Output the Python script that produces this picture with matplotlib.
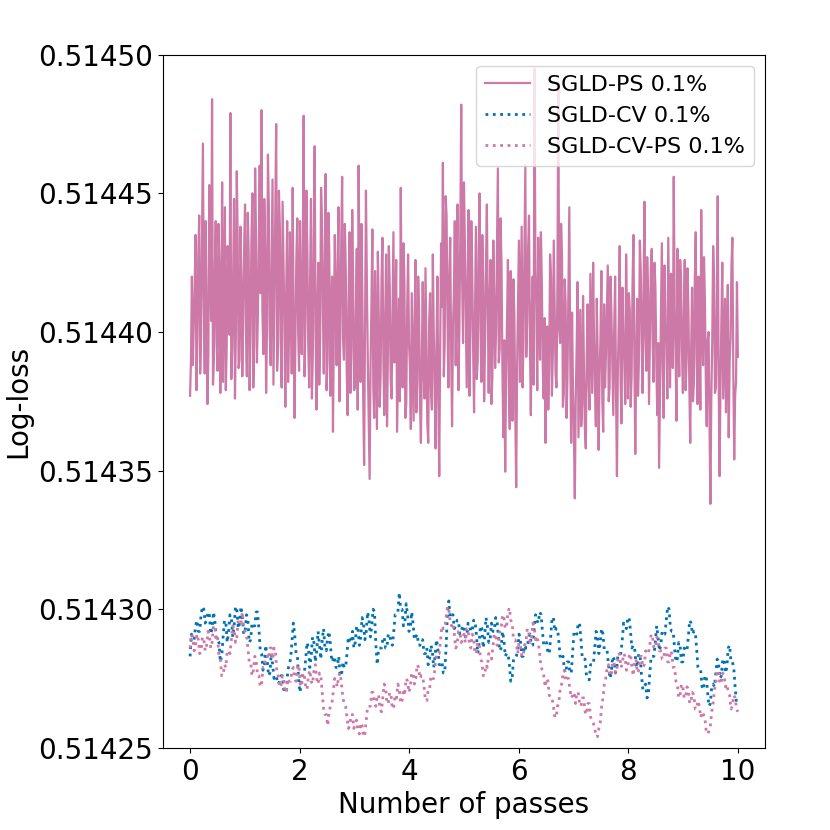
import numpy as np
import matplotlib
matplotlib.use('Agg')
import matplotlib.pyplot as plt
from matplotlib.ticker import FormatStrFormatter

# log-loss values, stored as offset above 0.51425 in units of 1e-5
base = 0.51425
unit = 1e-5

sgld_ps = [
    12.7, 14.0, 17.0, 13.8, 15.2, 16.6, 18.5, 12.9, 15.0, 17.8, 19.2, 13.5, 14.8, 18.3, 21.8, 16.2, 13.5, 19.0, 16.0, 12.4,
    14.2, 20.3, 18.0, 15.4, 23.4, 13.1, 14.0, 17.2, 19.0, 14.6, 13.6, 18.9, 17.5, 12.8, 15.0, 20.4, 13.2, 16.3, 19.5, 12.9,
    14.5, 18.1, 17.0, 14.9, 22.9, 13.3, 14.4, 16.9, 19.8, 12.6, 15.0, 20.8, 18.2, 13.7, 14.0, 18.8, 17.0, 13.4, 15.5, 18.0,
    19.6, 15.1, 13.4, 19.3, 17.8, 12.9, 15.0, 18.4, 20.0, 13.0, 14.6, 20.9, 18.5, 13.9, 15.6, 17.9, 21.0, 16.4, 23.0, 15.8,
    14.2, 19.8, 18.0, 12.8, 15.2, 21.4, 19.5, 14.9, 13.8, 17.3, 20.5, 13.1, 16.0, 19.2, 22.5, 13.6, 14.5, 20.1, 18.8, 14.7,
    13.0, 19.7, 17.5, 15.3, 12.3, 16.6, 19.0, 13.2, 14.8, 18.6, 16.5, 13.5, 20.2, 15.6, 11.9, 14.6, 17.6, 19.1, 15.0, 13.6,
    19.0, 16.2, 14.2, 17.6, 22.8, 13.4, 15.5, 20.1, 18.0, 14.6, 13.0, 16.8, 19.8, 12.6, 14.2, 18.3, 21.7, 15.1, 12.2, 16.0,
    17.5, 13.1, 14.8, 20.2, 19.0, 15.7, 13.5, 17.4, 20.7, 12.9, 14.0, 19.3, 17.8, 12.7, 15.6, 17.0, 11.4, 15.2, 18.5, 16.1,
    13.8, 17.1, 19.5, 12.5, 15.0, 18.2, 20.6, 14.8, 14.0, 18.9, 17.2, 13.6, 12.0, 15.9, 18.6, 12.8, 14.4, 19.4, 16.8, 12.9,
    13.0, 15.8, 18.0, 12.2, 21.0, 16.3, 13.2, 18.9, 16.5, 12.6, 10.2, 14.9, 20.1, 16.8, 14.0, 11.8, 9.7, 13.8, 16.0, 18.7,
    13.0, 11.9, 17.2, 14.4, 11.5, 17.9, 15.6, 12.3, 13.4, 16.9, 18.4, 14.1, 12.0, 15.3, 17.8, 11.6, 14.2, 18.1, 16.6, 13.3,
    12.6, 15.7, 18.6, 13.9, 15.0, 17.6, 11.4, 13.7, 16.2, 12.5, 20.2, 15.5, 13.0, 18.2, 16.8, 11.9, 12.4, 15.8, 17.8, 14.6,
    13.8, 11.5, 16.4, 14.2, 11.8, 15.1, 17.6, 12.1, 13.2, 17.0, 15.8, 12.4, 11.0, 14.0, 16.8, 13.5, 12.6, 17.3, 14.6, 11.7,
    11.0, 15.4, 16.4, 12.9, 12.2, 17.8, 15.0, 13.1, 10.8, 14.5, 17.0, 12.6, 9.8, 14.3, 18.2, 15.9, 21.1, 13.4, 14.6, 19.9,
    19.2, 15.6, 13.0, 17.0, 18.4, 14.3, 11.6, 15.2, 16.4, 19.0, 13.8, 17.7, 19.6, 12.9, 15.2, 18.5, 23.2, 16.9, 14.6, 20.4,
    18.2, 15.6, 13.0, 16.8, 19.4, 12.7, 15.0, 19.0, 17.2, 14.4, 12.1, 15.5, 18.8, 13.3, 14.0, 17.9, 20.0, 15.3, 13.2, 18.5,
    16.8, 12.5, 14.6, 17.4, 19.6, 15.8, 12.8, 16.1, 17.6, 12.4, 13.4, 18.3, 16.2, 13.7, 15.0, 18.1, 20.9, 13.9, 14.4, 19.1,
    17.4, 13.6, 11.2, 14.7, 9.96, 13.5, 15.4, 17.6, 13.0, 11.5, 17.2, 14.3, 11.8, 16.9, 15.6, 12.2, 9.4, 13.8, 16.0, 18.3,
    13.2, 16.1, 18.8, 13.0, 14.8, 17.9, 21.0, 14.1, 15.4, 18.0, 19.2, 14.6, 12.0, 15.8, 17.0, 13.1, 24.5, 17.3, 15.8, 12.9,
    18.4, 15.9, 14.0, 18.6, 16.8, 13.8, 12.6, 15.5, 11.0, 14.0, 15.2, 12.2, 13.6, 17.8, 17.0, 12.7, 14.2, 18.3, 16.0, 13.5,
    13.0, 16.6, 24.0, 15.1, 14.6, 18.9, 17.8, 12.3, 12.8, 16.9, 16.0, 11.9, 13.4, 16.4, 19.5, 14.2, 11.0, 15.7, 13.0, 11.3,
    9.0, 12.6, 14.4, 16.8, 11.2, 13.5, 15.8, 11.6, 12.4, 16.3, 13.6, 11.5, 10.8, 14.1, 16.0, 13.4, 12.2, 17.1, 15.0, 12.8,
    17.5, 14.7, 13.0, 11.6, 16.2, 14.0, 10.75, 13.3, 14.8, 17.2, 12.6, 11.4, 16.0, 13.0, 14.2, 15.9, 17.4, 12.5, 13.0, 17.0,
    15.6, 13.8, 12.0, 15.1, 17.0, 12.8, 9.8, 13.6, 15.4, 18.1, 13.2, 11.7, 16.6, 14.9, 14.0, 12.4, 17.8, 15.4, 12.6, 16.4,
    15.8, 12.3, 13.4, 16.7, 18.5, 14.2, 10.6, 13.9, 16.2, 12.7, 14.0, 18.3, 17.2, 14.8, 12.8, 16.1, 19.7, 15.0, 13.6, 17.7,
    16.4, 12.4, 15.0, 17.3, 18.0, 14.5, 13.2, 17.5, 16.6, 13.9, 12.0, 14.6, 10.1, 12.8, 15.6, 18.2, 13.8, 11.9, 17.4, 15.2,
    14.6, 12.6, 18.4, 15.7, 13.0, 17.1, 16.2, 13.7, 20.6, 15.9, 14.2, 11.8, 18.0, 15.1, 13.4, 17.6, 16.8, 14.3, 12.8, 15.5,
    17.6, 12.9, 14.0, 17.3, 15.8, 13.1, 11.0, 14.4, 16.6, 12.5, 13.2, 16.9, 18.6, 14.1, 12.4, 17.0, 15.4, 12.2, 19.4, 15.0,
    13.8, 17.7, 16.2, 13.3, 11.6, 14.7, 15.0, 11.9, 8.8, 12.6, 14.6, 18.1, 17.0, 12.8, 13.0, 15.9, 19.9, 13.5, 9.8, 13.0,
    15.4, 17.5, 12.6, 14.3, 16.2, 12.1, 13.4, 16.7, 11.2, 13.9, 14.8, 17.4, 18.4, 13.6, 10.4, 12.7, 13.2, 16.8, 14.1,
]

sgld_cv = [
    3.3, 4.1, 3.9, 3.9, 4.4, 4.6, 4.2, 4.2, 4.8, 5.1, 5.0, 4.5, 4.6, 4.9, 4.8, 4.1, 4.3, 4.9, 4.6, 3.9,
    3.9, 3.8, 3.1, 3.3, 4.0, 4.6, 4.5, 3.8, 4.2, 4.8, 4.7, 4.0, 4.4, 5.1, 5.0, 4.3, 4.5, 5.1, 4.7, 4.1,
    4.2, 4.8, 4.6, 3.8, 3.9, 4.5, 4.4, 4.4, 4.9, 4.9, 4.3, 3.5, 3.4, 2.8, 3.0, 3.7, 3.2, 2.6, 2.7, 3.4,
    3.0, 2.5, 2.6, 2.5, 2.3, 2.4, 2.6, 2.6, 2.1, 2.1, 2.0, 2.8, 3.0, 3.2, 3.8, 4.5, 4.1, 3.4, 3.3, 2.3,
    2.0, 2.6, 2.6, 2.7, 3.2, 3.8, 3.6, 2.9, 3.3, 4.0, 3.8, 3.1, 3.5, 4.2, 3.7, 3.2, 3.9, 4.3, 3.6, 3.5,
    4.0, 4.2, 3.7, 3.1, 3.2, 3.3, 2.9, 2.9, 3.3, 2.6, 2.6, 3.1, 2.9, 2.9, 3.4, 4.0, 3.8, 3.8, 4.2, 3.6,
    3.8, 4.4, 4.3, 3.7, 4.0, 4.7, 4.5, 3.9, 4.2, 4.9, 4.6, 4.0, 4.4, 5.0, 4.9, 3.7, 3.0, 3.6, 3.6, 3.6,
    3.9, 4.0, 3.6, 3.6, 4.1, 4.1, 3.8, 3.7, 4.2, 4.8, 4.8, 4.9, 5.6, 5.0, 5.0, 4.4, 4.5, 5.2, 4.8, 4.2,
    4.3, 4.9, 4.5, 3.9, 4.0, 4.1, 3.7, 3.7, 3.9, 3.9, 3.4, 3.4, 3.6, 3.0, 3.2, 3.7, 3.5, 2.9, 3.3, 3.9,
    3.6, 3.0, 3.0, 3.1, 2.7, 2.7, 3.6, 4.9, 5.3, 4.7, 4.8, 4.8, 4.3, 4.4, 4.6, 4.6, 4.1, 4.2, 4.4, 4.4,
    4.0, 4.0, 4.5, 4.4, 4.2, 4.2, 4.6, 4.6, 4.1, 3.4, 3.8, 4.4, 4.3, 3.6, 4.0, 4.7, 4.4, 3.8, 3.9, 4.5,
    4.2, 4.2, 4.7, 4.6, 4.0, 3.5, 3.6, 4.2, 3.9, 3.3, 3.4, 3.4, 3.0, 2.4, 2.5, 3.2, 3.2, 3.3, 3.5, 4.1,
    3.9, 3.3, 3.3, 3.7, 3.6, 3.6, 4.0, 4.1, 3.7, 3.7, 4.3, 4.8, 4.6, 4.5, 4.9, 4.8, 4.2, 3.7, 3.8, 3.8,
    3.4, 3.4, 4.0, 4.7, 4.7, 4.2, 4.3, 4.3, 3.8, 3.2, 3.2, 3.3, 2.8, 2.7, 3.1, 3.1, 2.7, 2.7, 3.5, 4.2,
    4.2, 4.1, 4.5, 4.5, 3.9, 3.2, 3.2, 3.2, 2.6, 2.5, 2.45, 3.0, 3.0, 3.0, 3.6, 4.2, 4.0, 3.4, 3.8, 4.3,
    4.1, 3.5, 3.5, 3.5, 3.0, 2.5, 2.7, 3.3, 3.2, 2.7, 2.9, 3.4, 3.4, 3.4, 3.9, 4.5, 4.4, 4.3, 4.7, 4.7,
    4.2, 3.6, 3.7, 3.6, 3.0, 2.9, 3.4, 3.3, 2.6, 2.1, 2.2, 2.3, 1.8, 1.9, 2.7, 3.3, 3.3, 3.3, 3.8, 4.4,
    4.0, 3.5, 3.7, 4.2, 4.1, 4.1, 4.6, 5.1, 5.0, 4.3, 4.2, 4.2, 3.6, 3.1, 3.2, 3.8, 3.7, 3.1, 3.1, 3.6,
    3.5, 3.5, 4.0, 4.6, 4.5, 4.1, 4.2, 4.2, 3.6, 2.9, 2.8, 2.8, 2.2, 2.1, 2.6, 2.6, 2.0, 1.5, 1.6, 2.2,
    2.3, 2.2, 2.7, 3.2, 3.0, 2.5, 2.6, 3.2, 3.2, 2.7, 2.9, 3.6, 3.7, 3.1, 3.1, 2.9, 2.2, 1.6, 1.6,
]

sgld_cv_ps = [
    3.6, 4.1, 4.0, 3.5, 3.7, 4.1, 3.9, 3.4, 3.5, 4.0, 3.9, 3.5, 3.7, 4.2, 4.1, 3.6, 3.8, 4.4, 4.4, 3.9,
    4.0, 3.3, 3.2, 2.6, 2.6, 3.0, 2.9, 3.5, 3.5, 3.4, 3.9, 4.4, 4.3, 3.8, 4.0, 4.6, 4.6, 4.5, 4.9, 4.3,
    4.2, 4.1, 3.6, 3.1, 3.1, 2.6, 2.8, 3.3, 3.2, 2.6, 2.6, 2.2, 2.3, 2.9, 2.9, 3.3, 3.3, 3.2, 3.6, 3.6,
    3.2, 3.6, 3.5, 2.8, 2.6, 2.2, 2.2, 2.6, 2.5, 2.0, 2.0, 2.5, 2.4, 2.4, 2.8, 2.9, 2.5, 2.4, 2.9, 3.0,
    2.3, 2.2, 2.7, 2.6, 2.2, 2.1, 2.6, 2.8, 2.4, 2.3, 2.8, 3.0, 2.5, 2.3, 2.7, 2.6, 2.0, 1.4, 1.2, 1.2,
    0.8, 1.3, 1.5, 1.6, 2.0, 2.5, 2.4, 2.2, 2.6, 2.7, 2.3, 1.8, 1.6, 1.5, 1.1, 0.7, 0.8, 1.2, 1.2, 0.7,
    0.9, 1.0, 0.6, 0.5, 0.9, 0.8, 0.4, 0.5, 1.0, 1.5, 1.5, 1.5, 2.0, 2.0, 1.6, 1.5, 1.9, 1.9, 1.4, 1.3,
    1.8, 2.3, 2.2, 1.6, 1.6, 2.0, 1.9, 1.4, 1.5, 1.9, 1.8, 2.3, 2.1, 1.6, 1.7, 2.1, 2.0, 2.5, 2.4, 2.0,
    2.2, 2.7, 2.7, 2.3, 2.5, 3.0, 2.9, 2.5, 2.6, 2.6, 2.2, 1.7, 1.7, 2.1, 2.1, 2.6, 2.5, 2.5, 2.9, 3.4,
    3.4, 3.4, 3.9, 4.4, 4.3, 4.3, 4.7, 5.1, 5.0, 4.5, 4.4, 4.5, 4.1, 3.6, 3.7, 4.2, 4.2, 3.8, 3.9, 4.1,
    3.8, 4.3, 4.3, 3.7, 3.6, 4.1, 4.0, 3.4, 3.4, 3.8, 3.8, 3.2, 3.1, 2.6, 2.6, 3.0, 2.9, 3.4, 3.3, 3.2,
    3.6, 4.1, 4.1, 3.7, 3.7, 4.2, 4.3, 4.8, 4.7, 4.3, 4.4, 4.9, 5.05, 4.6, 4.5, 3.9, 3.9, 3.8, 3.4, 3.8,
    3.7, 3.3, 3.3, 3.7, 3.8, 4.3, 4.2, 3.8, 3.9, 4.5, 4.4, 3.9, 4.0, 3.8, 3.4, 2.9, 2.8, 2.6, 2.2, 2.5,
    2.4, 1.9, 1.8, 1.8, 1.5, 1.1, 1.1, 1.5, 1.7, 2.2, 2.3, 2.7, 2.8, 2.4, 2.5, 2.5, 2.1, 1.8, 1.9, 2.0,
    1.6, 2.0, 2.0, 1.6, 1.5, 1.8, 1.8, 1.3, 1.2, 1.6, 1.6, 1.1, 1.0, 0.9, 0.7, 0.4, 0.4, 0.7, 0.9, 1.5,
    1.8, 2.3, 2.5, 2.9, 3.0, 2.6, 2.6, 3.1, 3.1, 2.7, 2.8, 3.3, 3.4, 2.9, 3.0, 3.4, 3.3, 2.8, 2.9, 3.3,
    3.4, 2.9, 2.6, 3.1, 3.2, 2.7, 2.8, 3.3, 3.3, 2.9, 3.0, 3.5, 3.4, 3.4, 3.7, 4.1, 4.0, 3.6, 3.6, 4.0,
    3.9, 3.5, 3.5, 3.2, 3.2, 3.6, 3.6, 3.1, 3.1, 3.5, 3.4, 2.9, 2.9, 2.4, 2.3, 1.8, 1.9, 2.3, 2.2, 1.8,
    1.8, 2.2, 2.1, 1.6, 1.7, 2.0, 1.9, 1.4, 1.4, 1.7, 1.5, 1.1, 1.3, 1.2, 1.1, 0.6, 0.5, 0.6, 0.8, 1.3,
    1.6, 2.1, 2.3, 2.8, 2.7, 2.3, 2.4, 2.7, 2.6, 2.2, 2.3, 2.0, 1.9, 1.4, 1.5, 1.9, 1.8, 1.4, 1.3,
]

pink = '#cc79a7'
blue = '#0072b2'

series = [
    (sgld_ps, 'SGLD-PS 0.1%', pink, '-', 1.6),
    (sgld_cv, 'SGLD-CV 0.1%', blue, ':', 2.0),
    (sgld_cv_ps, 'SGLD-CV-PS 0.1%', pink, ':', 2.0),
]

fig, ax = plt.subplots(figsize=(8.3, 8.3), dpi=100)
fig.subplots_adjust(left=0.196, right=0.922, bottom=0.099, top=0.934)

for vals, label, color, ls, lw in series:
    y = base + np.array(vals) * unit
    x = np.linspace(0, 10, len(vals))
    ax.plot(x, y, color=color, linestyle=ls, lw=lw, label=label)

ax.set_ylim(0.51425, 0.51450)
ax.set_yticks([0.51425, 0.51430, 0.51435, 0.51440, 0.51445, 0.51450])
ax.yaxis.set_major_formatter(FormatStrFormatter('%.5f'))
ax.set_xticks([0, 2, 4, 6, 8, 10])
ax.tick_params(labelsize=20)
ax.set_xlabel('Number of passes', fontsize=20)
ax.set_ylabel('Log-loss', fontsize=20)
ax.legend(loc='upper right', fontsize=16)

fig.savefig('out.png', dpi=100)
